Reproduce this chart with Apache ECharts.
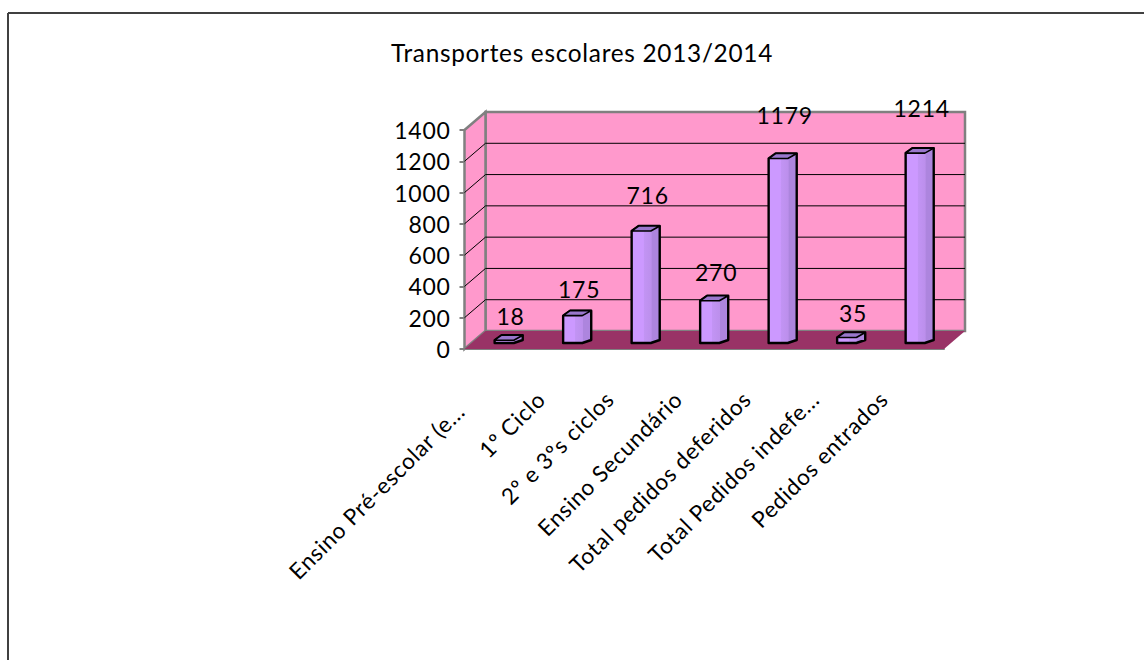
<!DOCTYPE html>
<html>
<head>
<meta charset="utf-8">
<script src="https://cdn.jsdelivr.net/npm/echarts@6/dist/echarts.min.js"></script>
<style>
html,body{margin:0;padding:0;background:#fff;}
#chart{width:1144px;height:660px;}
#chart svg text{letter-spacing:0.7px;}
</style>
</head>
<body>
<div id="chart"></div>
<script>
const titleText = 'Transportes escolares 2013/2014';
const categories = ['Ensino Pré-escolar (e...','1º Ciclo','2º e 3ºs ciclos','Ensino Secundário','Total pedidos deferidos','Total Pedidos indefe...','Pedidos entrados'];
const values = [18,175,716,270,1179,35,1214];
const yTicks = [200,400,600,800,1000,1200];

const FONT = 'Lato, "Open Sans", sans-serif';
const DX = 21, DY = -18;          // wall depth
const BY = -6;                    // bar depth inside the floor

function wallsItem(params, api){
  const c = params.coordSys;
  const l = c.x, r = c.x + c.width, t = c.y, b = c.y + c.height;
  const poly = (pts, fill, stroke, w) => ({type:'polygon', shape:{points:pts}, silent:true,
    style:{fill:fill, stroke:stroke||null, lineWidth:w||0}});
  return {type:'group', children:[
    poly([[l+DX,t+DY],[r+DX,t+DY],[r+DX,b+DY],[l+DX,b+DY]], '#FF99CC', '#808080', 2.5),
    poly([[l,t],[l+DX,t+DY],[l+DX,b+DY],[l,b]], '#FF99CC', '#808080', 2.5),
    poly([[l,b],[l+DX,b+DY],[r+DX,b+DY],[r,b]], '#993366', null, 0)
  ]};
}

function gridItem(params, api){
  const c = params.coordSys;
  const y = api.coord([0, api.value(0)])[1];
  const style = {stroke:'#000', lineWidth:1, fill:null};
  return {type:'group', silent:true, children:[
    {type:'polyline', shape:{points:[[c.x,y],[c.x+DX,y+DY],[c.x+c.width+DX,y+DY]]}, style:style}
  ]};
}

function barItem(params, api){
  const idx = api.value(0), v = api.value(1);
  const pTop = api.coord([idx, v]);
  const band = api.size([1,0])[0];
  const left = pTop[0] - band*0.06;
  const w = band*0.28, full = band*0.41;
  const base = api.coord([idx, 0])[1] + BY;
  const top = pTop[1] + BY;
  const right = left + full, mid = left + w;
  const depth = 5;
  const ink = {stroke:'#000', lineWidth:2.4, lineJoin:'round'};
  return {type:'group', silent:true, children:[
    {type:'polygon', shape:{points:[[left,top],[left+7,top-depth],[right,top-depth],[right,base-3],[mid,base],[left,base]]},
      style:Object.assign({fill:{type:'linear',x:0,y:0,x2:1,y2:0,colorStops:[
        {offset:0,color:'#CC99FF'},{offset:0.42,color:'#CC99FF'},{offset:0.44,color:'#C294F4'},
        {offset:0.7,color:'#BC8FEC'},{offset:0.72,color:'#AD85DE'},{offset:1,color:'#AD85DE'}]}},ink)},
    {type:'polygon', shape:{points:[[left,top],[left+7,top-depth],[right,top-depth],[mid,top]]},
      style:{fill:'#9977CC', stroke:'#000', lineWidth:1.6, lineJoin:'round'}},
    {type:'text', style:{text:String(v), x:left+16, y:top-(24+0.017*v), align:'center', verticalAlign:'middle',
      font:'23px '+FONT, fill:'#000'}}
  ]};
}

const chart = echarts.init(document.getElementById('chart'), null, {renderer:'svg', width:1144, height:660});
chart.setOption({
  animation:false,
  backgroundColor:'#fff',
  title:{text:titleText, left:577, top:35, textAlign:'center',
    textStyle:{fontFamily:FONT, fontSize:24.4, fontWeight:'normal', color:'#000'}},
  grid:{left:464.5, top:130, width:479.5, height:219, containLabel:false},
  xAxis:{type:'category',
    data:categories.map((name,i)=> i===0 ? {value:name, textStyle:{padding:[0,54,0,0]}} : name),
    boundaryGap:true,
    axisLine:{lineStyle:{color:'#808080',width:2}},
    axisTick:{length:8, lineStyle:{color:'#808080',width:2}},
    axisLabel:{interval:0, rotate:45, margin:20, padding:[0,37,0,0], fontFamily:FONT, fontSize:22.5, color:'#000'}
  },
  yAxis:{type:'value', min:0, max:1400, interval:200,
    axisLine:{show:true,lineStyle:{color:'#808080',width:2}},
    axisTick:{show:true,length:5,lineStyle:{color:'#808080',width:2}},
    splitLine:{show:false},
    axisLabel:{margin:14, fontFamily:FONT, fontSize:23, color:'#000', formatter:function(v){return String(v);}}
  },
  graphic:[
    {type:'line', shape:{x1:8,y1:13,x2:1144,y2:13}, style:{stroke:'#404040',lineWidth:2}, silent:true},
    {type:'line', shape:{x1:8,y1:13,x2:8,y2:660}, style:{stroke:'#404040',lineWidth:2}, silent:true}
  ],
  series:[
    {type:'custom', name:'walls', data:[[0]], renderItem:wallsItem, z:1, clip:false, silent:true},
    {type:'custom', name:'grid', data:yTicks.map(t=>[t]), encode:{y:0}, renderItem:gridItem, z:2, clip:false, silent:true},
    {type:'custom', name:'Transportes escolares', data:values.map((v,i)=>[i,v]), encode:{x:0,y:1}, renderItem:barItem, z:3, clip:false, silent:true}
  ]
});
</script>
</body>
</html>
